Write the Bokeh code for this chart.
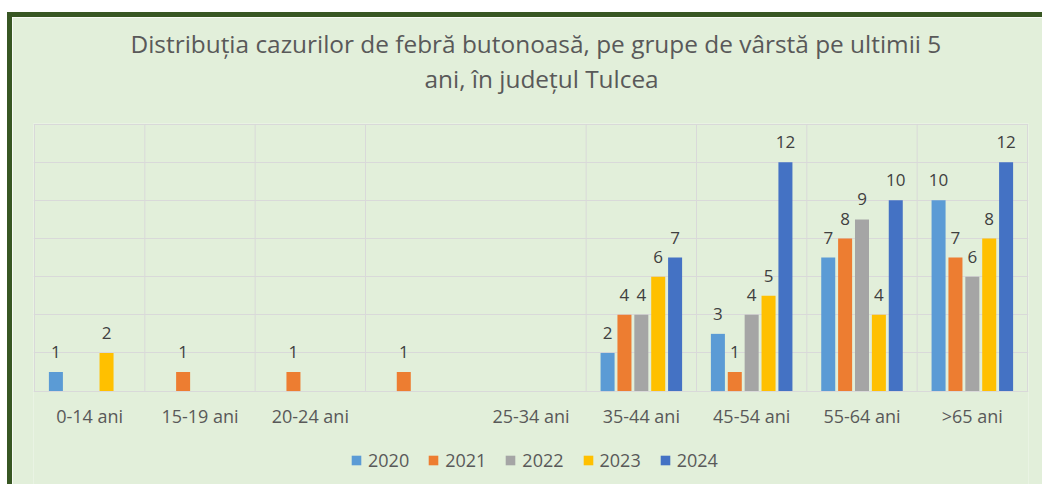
from bokeh.plotting import figure
from bokeh.models import (ColumnDataSource, FixedTicker, Grid, Legend, LegendItem,
                          Range1d, Title)
from bokeh.core.properties import value
from bokeh.embed import file_html
from bokeh.resources import INLINE

# ---- data ----
categories = ["0-14 ani", "15-19 ani", "20-24 ani", "", "25-34 ani",
              "35-44 ani", "45-54 ani", "55-64 ani", ">65 ani"]
years = ["2020", "2021", "2022", "2023", "2024"]
y2020 = [1, None, None, None, None, 2, 3, 7, 10]
y2021 = [None, 1, 1, 1, None, 4, 1, 8, 7]
y2022 = [None, None, None, None, None, 4, 4, 9, 6]
y2023 = [2, None, None, None, None, 6, 5, 4, 8]
y2024 = [None, None, None, None, None, 7, 12, 10, 12]
series = [y2020, y2021, y2022, y2023, y2024]
colors = ["#5B9BD5", "#ED7D31", "#A5A5A5", "#FFC000", "#4472C4"]

title_line1 = "Distribuția cazurilor de febră butonoasă, pe grupe de vârstă pe ultimii 5"
title_line2 = "ani, în județul Tulcea"

FONT = "Open Sans"
GRID = "#D9D9D9"
n = len(categories)
y_max = 14
step = 0.153
bar_w = 0.127

# geometry of the plotting area (pixels)
slot_px = 993 / n                  # width of one category
unit_px = 267 / y_max              # height of one case
frame_h = 361                      # plot area runs down to the bottom (labels + legend inside)
xpad = 1 / slot_px
y_lo = y_max - frame_h / unit_px + 0.03

p = figure(frame_width=995, frame_height=frame_h, output_backend="svg", toolbar_location=None,
           x_range=Range1d(-xpad, n + xpad), y_range=Range1d(y_lo, y_max + 0.03),
           x_axis_location=None, y_axis_location=None, tools="", title=None,
           min_border_left=21, min_border_right=14, min_border_top=106, min_border_bottom=0)
p.center = []   # drop the default grids; the grid is drawn explicitly below
p.styles = {"margin-top": "12px", "margin-left": "7px",
            "border-top": "5px solid #385723", "border-left": "5px solid #385723"}
p.background_fill_color = "#E2EFDA"
p.border_fill_color = "#E2EFDA"
p.outline_line_color = None

# titles: spacer nearest the plot, then line 2, then line 1
p.add_layout(Title(text=" ", text_font_size="20px", text_font=FONT, standoff=0), "above")
for txt, off in ((title_line2, 391), (title_line1, 97)):
    p.add_layout(Title(text=txt, align="left", offset=off, text_font=FONT,
                       text_font_size="24.4px", text_font_style="normal",
                       text_color="#595959", standoff=0), "above")

# horizontal grid lines 0..14 step 2
p.add_layout(Grid(dimension=1, ticker=FixedTicker(ticks=list(range(0, y_max + 1, 2))),
                  grid_line_color=GRID))
# vertical category separators (none between the unlabeled category and the next one)
boundaries = [i for i in range(n + 1) if not (0 < i < n and categories[i - 1] == "")]
p.segment(x0=boundaries, y0=[0] * len(boundaries), x1=boundaries,
          y1=[y_max] * len(boundaries), line_color=GRID, line_width=1)

# category labels under the axis line
centers = [i + 0.5 for i in range(n)]
p.text(x=centers, y=[0] * n, text=categories, text_align="center",
       text_baseline="alphabetic", y_offset=24.5, text_font=value(FONT),
       text_font_size="18px", text_color="#595959")

items = []
for k, (yr, vals, col) in enumerate(zip(years, series, colors)):
    xs, ys = [], []
    for i, v in enumerate(vals):
        if v is not None:
            xs.append(i + 0.5 + (k - 2) * step)
            ys.append(v)
    src = ColumnDataSource(dict(x=xs, top=ys, lab=[str(v) for v in ys]))
    r = p.vbar(x="x", top="top", width=bar_w, bottom=0, source=src,
               fill_color=col, line_color=None)
    p.text(x="x", y="top", text="lab", source=src, text_align="center",
           text_baseline="alphabetic", y_offset=-20, text_font=value(FONT),
           text_font_size="17px", text_color="#404040")
    items.append(LegendItem(label=yr, renderers=[r]))

legend = Legend(items=items, orientation="horizontal", location=(317, 12),
                glyph_width=12, glyph_height=12, label_standoff=6, spacing=18,
                label_text_font=FONT, label_text_font_size="18px",
                label_text_color="#595959", background_fill_alpha=0,
                border_line_color=None, margin=0, padding=0)
p.add_layout(legend, "center")

open("out.html", "w").write(file_html(p, INLINE))
